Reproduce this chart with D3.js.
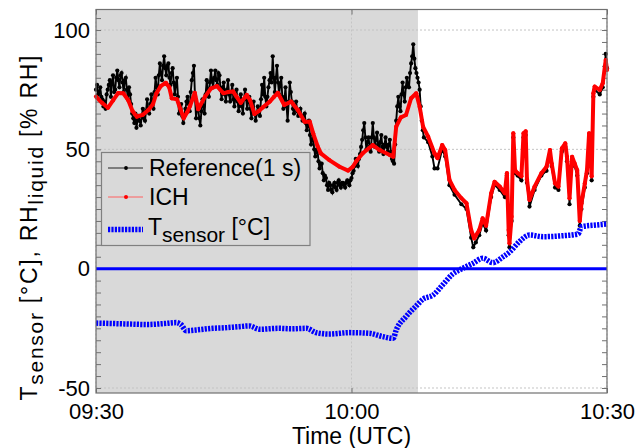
<!DOCTYPE html>
<html><head><meta charset="utf-8">
<script src="https://cdn.jsdelivr.net/npm/d3@7"></script>
<style>body{margin:0;background:#fff}svg{display:block;font-family:"Liberation Sans",Arial,sans-serif}</style>
</head><body><svg id="c" width="636" height="448"></svg>
<script>
// minutes after 09:30
const xTickValues=[0,30,60];
const xTickLabels=["09:30","10:00","10:30"];
const yTickValues=[-50,0,50,100];
const greyEnd=37.8;
const seriesNames=["Reference(1 s)","ICH","T","sensor"," [°C]"];

// reference, first part sampled every 0.125 min (0 .. 38.5)
const refEarlyStep=0.125;
const refEarlyValues=[75,77,73,74,76,72,71,68,70,67,73,75,77,79,72,78,81,74,75,80,83,79,76,81,82,78,74,79,80,75,71,76,73,69,65,63,61,65,59,62,64,62,60,64,67,63,62,66,71,67,65,69,73,70,67,74,80,76,73,81,86,82,79,85,89,84,81,85,86,80,77,82,84,78,73,77,80,72,65,67,69,64,61,64,67,70,72,69,66,74,79,82,85,72,63,68,67,63,60,66,71,68,65,73,79,75,72,78,83,79,76,80,83,79,77,82,81,75,71,76,78,73,70,75,79,73,70,74,77,71,68,72,75,70,66,70,73,68,65,71,75,71,67,70,72,67,63,66,70,65,62,65,68,66,64,71,77,73,80,72,68,72,76,79,82,78,89,80,74,80,85,78,73,77,80,72,67,71,76,68,62,70,78,74,70,67,65,68,70,66,64,66,67,64,62,64,65,61,58,60,62,56,52,54,55,50,47,49,50,45,42,44,44,40,37,39,38,35,33,36,35,33,32,35,36,34,33,36,37,35,34,36,36,35,34,36,37,36,35,37,38,40,41,43,46,44,43,46,48,51,54,58,61,55,50,53,55,51,49,55,61,55,51,54,57,52,49,53,56,51,48,52,55,51,49,52,54,49,46,45,44,52,62,68,72,68,66,73,78,73,70,76,80,77,76,82,86,89,94,88,84,82,80,78,75,68,62,58,55];
// reference, later part [minute, value]
const refLate=[[39.0,53],[39.5,47],[39.75,42],[40.1,42],[40.65,50],[41.0,47],[41.5,35],[42.1,31],[42.9,27],[43.5,25],[44.05,13],[44.3,9],[44.6,11],[45.0,14],[45.4,19],[45.8,16],[46.4,30],[46.8,35],[47.4,33],[48.0,30],[48.25,39],[48.45,14],[48.55,9],[48.8,20],[49.0,55],[49.2,40],[49.5,39],[49.95,37],[50.2,55],[50.45,56],[50.6,36],[50.9,26],[51.5,33],[52.3,39],[52.9,41],[53.3,48],[53.5,43],[53.9,34],[54.3,33],[54.7,49],[55.1,51],[55.3,45],[55.6,27],[55.9,45],[56.2,43],[56.5,39],[56.8,18],[57.0,25],[57.4,34],[57.65,40],[57.9,55],[58.2,37],[58.4,72],[58.55,75],[59.15,73],[59.5,76],[59.85,90],[60,84]];

const ich=[[0,72.1],[0.7,69.5],[1.4,67.4],[2.0,70.5],[2.6,73.6],[3.2,73.5],[3.8,70.5],[4.3,66],[4.8,63.7],[5.5,64.5],[6.15,66.5],[6.7,69],[7.1,73.5],[7.6,76.5],[8.2,77.9],[8.6,76],[8.9,71.4],[9.5,71],[9.9,67],[10.3,63],[10.7,65.5],[11.05,68.2],[11.6,73.7],[12.0,66.8],[12.8,72.1],[13.5,75.5],[14.2,76.5],[14.96,73.5],[15.5,74],[16.1,74.2],[16.5,72.1],[17.0,69.5],[17.7,72.8],[18.1,70.5],[18.6,64.8],[19.1,66],[19.6,67.6],[20.4,70],[20.9,72],[21.35,73.7],[22.1,68.6],[22.9,70],[23.7,66.5],[24.5,61.6],[25.1,61.6],[25.5,56.7],[26.0,51.5],[26.4,48.3],[27.4,45.5],[28.6,42.7],[29.6,41.1],[30.15,42.7],[30.55,45],[31.3,48.3],[32.5,51.8],[33.3,49.7],[34.5,47.6],[34.9,46.9],[35.25,59.5],[35.8,63.4],[36.4,64.4],[37.0,71.4],[37.6,73.5],[38.0,67.9],[38.4,59.5],[39.0,55.3],[39.75,48.3],[40.1,46.3],[40.65,51.8],[41.0,49.7],[41.5,37.2],[42.1,33],[42.9,29.5],[43.5,27.4],[44.05,16.2],[44.4,12.7],[45.0,16.2],[45.4,21.1],[45.8,18],[46.4,31.6],[46.8,36.4],[47.4,34.4],[48.0,31.6],[48.25,40],[48.45,16.2],[48.55,10.6],[48.8,21.8],[49.0,56.7],[49.2,41.3],[49.5,40],[49.95,38.7],[50.2,56.7],[50.45,57.5],[50.6,37.5],[50.9,28.8],[51.5,34.4],[52.3,40],[52.9,42.7],[53.3,49.7],[53.5,44.1],[53.9,35.8],[54.3,34.4],[54.7,50.4],[55.1,52.5],[55.3,46.9],[55.6,29.5],[55.9,46.9],[56.2,44.1],[56.5,41.3],[56.8,20],[57.0,27.4],[57.4,35.8],[57.65,41.3],[57.9,56.7],[58.2,38.7],[58.4,73.5],[58.55,76.3],[59.15,74.9],[59.5,77.7],[59.85,87.4],[60,83.2]];

const tsensor=[[0,-22.8],[2,-23],[3.9,-23.2],[6,-23.4],[8,-23],[9.4,-22.6],[10.0,-23.5],[10.6,-26],[11.75,-25.7],[13.7,-25],[15,-24.8],[16.8,-24.3],[18,-24],[19.2,-25.4],[21.5,-25],[23,-25.2],[24.7,-25],[25.85,-26.8],[27.4,-27.4],[29.8,-26.8],[32.1,-27.1],[33.7,-28.5],[34.9,-29.2],[35.25,-25.7],[36.4,-20.1],[37.6,-15.6],[38.4,-12.8],[39.6,-11],[40.7,-6.8],[41.9,-2.2],[43.1,0.2],[44.3,2.3],[45.4,4.4],[46.6,2.5],[47.8,5],[48.6,7.1],[49.7,11.3],[50.9,14.1],[52.5,13.4],[54.8,13.8],[56.6,14.5],[57.0,17.6],[58.75,18.3],[60,18.7]];

const reference=refEarlyValues.map((v,i)=>[i*refEarlyStep,v]).concat(refLate);

const svg=d3.select("#c");
const L=96,R=607,T=9.5,B=393;
const x=d3.scaleLinear().domain([0,60]).range([L,R]);
const y=d3.scaleLinear().domain([-52.1,108.6]).range([B,T]);

// shaded area
svg.append("rect").attr("x",x(0)).attr("y",T).attr("width",x(greyEnd)-x(0)).attr("height",B-T).attr("fill","#d9d9d9");

// grid
const grid=svg.append("g").attr("stroke","#c4c4c4").attr("stroke-width",1).attr("stroke-dasharray","2,2");
yTickValues.forEach(v=>grid.append("line").attr("x1",L).attr("x2",R).attr("y1",y(v)).attr("y2",y(v)));
xTickValues.forEach(v=>grid.append("line").attr("x1",x(v)).attr("x2",x(v)).attr("y1",T).attr("y2",B));

// minor ticks
const minor=d3.range(-50,106,5);
const tick=(g)=>{g.select(".domain").remove();g.selectAll("line").attr("stroke","#707070");};
svg.append("g").attr("transform",`translate(${L},0)`).call(d3.axisLeft(y).tickValues(minor).tickSize(-5).tickFormat("")).call(tick);
svg.append("g").attr("transform",`translate(${R},0)`).call(d3.axisRight(y).tickValues(minor).tickSize(-5).tickFormat("")).call(tick);
svg.append("g").attr("transform",`translate(0,${B})`).call(d3.axisBottom(x).tickValues(xTickValues).tickSize(-5).tickFormat("")).call(tick);
svg.append("g").attr("transform",`translate(0,${T})`).call(d3.axisTop(x).tickValues(xTickValues).tickSize(-5).tickFormat("")).call(tick);

// tick labels
const yl=svg.append("g").attr("transform",`translate(${L},0)`).call(d3.axisLeft(y).tickValues(yTickValues).tickSize(0).tickPadding(6).tickFormat(d=>String(d)));
yl.select(".domain").remove();
yl.selectAll("text").attr("font-size",22).attr("fill","#000").attr("font-family","Liberation Sans, Arial, sans-serif");
const xl=svg.append("g").attr("transform",`translate(0,${B})`).call(d3.axisBottom(x).tickValues(xTickValues).tickSize(0).tickPadding(10).tickFormat((d,i)=>xTickLabels[i]));
xl.select(".domain").remove();
xl.selectAll("text").attr("font-size",22).attr("fill","#000").attr("font-family","Liberation Sans, Arial, sans-serif");

const line=d3.line().x(d=>x(d[0])).y(d=>y(d[1]));

// reference
svg.append("path").datum(reference).attr("d",line).attr("fill","none").attr("stroke","#000").attr("stroke-width",1.9);
svg.append("g").selectAll("circle").data(reference).join("circle").attr("cx",d=>x(d[0])).attr("cy",d=>y(d[1])).attr("r",2.1).attr("fill","#000");
// ICH
svg.append("path").datum(ich).attr("d",line).attr("fill","none").attr("stroke","#ff0000").attr("stroke-width",4).attr("stroke-linejoin","round");
svg.append("g").selectAll("circle").data(ich).join("circle").attr("cx",d=>x(d[0])).attr("cy",d=>y(d[1])).attr("r",2.1).attr("fill","#ff0000");
// T sensor
svg.append("path").datum(tsensor).attr("d",d3.line().x(d=>x(d[0])).y(d=>y(d[1])).curve(d3.curveMonotoneX)).attr("fill","none").attr("stroke","#0000ff").attr("stroke-width",5.5).attr("stroke-dasharray","2.2,1.2");
// zero line
svg.append("line").attr("x1",L).attr("x2",R).attr("y1",y(0)).attr("y2",y(0)).attr("stroke","#0000ff").attr("stroke-width",3);

// frame
svg.append("rect").attr("x",L).attr("y",T).attr("width",R-L).attr("height",B-T).attr("fill","none").attr("stroke","#707070").attr("stroke-width",1.2);

// axis titles
svg.append("text").attr("x",(L+R)/2).attr("y",444).attr("text-anchor","middle").attr("font-size",23).text("Time (UTC)");
const yt=svg.append("text").attr("transform","translate(37,228) rotate(-90)").attr("text-anchor","middle").attr("font-size",23).attr("textLength",345).attr("lengthAdjust","spacing");
yt.append("tspan").text("T");
yt.append("tspan").attr("font-size",21).attr("dy",6).text("sensor");
yt.append("tspan").attr("dy",-6).text(" [°C], RH");
yt.append("tspan").attr("font-size",21).attr("dy",6).text("liquid");
yt.append("tspan").attr("dy",-6).text(" [% RH]");

// legend
const lg=svg.append("g");
lg.append("rect").attr("x",101.5).attr("y",152.5).attr("width",208.5).attr("height",93).attr("fill","#d9d9d9").attr("stroke","#808080").attr("stroke-width",1.2);
lg.append("line").attr("x1",108).attr("x2",143).attr("y1",168).attr("y2",168).attr("stroke","#222").attr("stroke-width",1);
lg.append("circle").attr("cx",126).attr("cy",168).attr("r",1.9).attr("fill","#000");
lg.append("text").attr("x",149).attr("y",176).attr("font-size",23).text(seriesNames[0]);
lg.append("line").attr("x1",108).attr("x2",143).attr("y1",197).attr("y2",197).attr("stroke","#ff6060").attr("stroke-width",1);
lg.append("circle").attr("cx",126).attr("cy",197).attr("r",2).attr("fill","#ff0000");
lg.append("text").attr("x",149).attr("y",205).attr("font-size",23).text(seriesNames[1]);
lg.append("line").attr("x1",108).attr("x2",143).attr("y1",229.5).attr("y2",229.5).attr("stroke","#0000ff").attr("stroke-width",5.5).attr("stroke-dasharray","2.2,1.2");
const lt=lg.append("text").attr("x",148).attr("y",235).attr("font-size",23);
lt.append("tspan").text(seriesNames[2]);
lt.append("tspan").attr("font-size",21).attr("dy",7).text(seriesNames[3]);
lt.append("tspan").attr("dy",-7).text(seriesNames[4]);
</script></body></html>
